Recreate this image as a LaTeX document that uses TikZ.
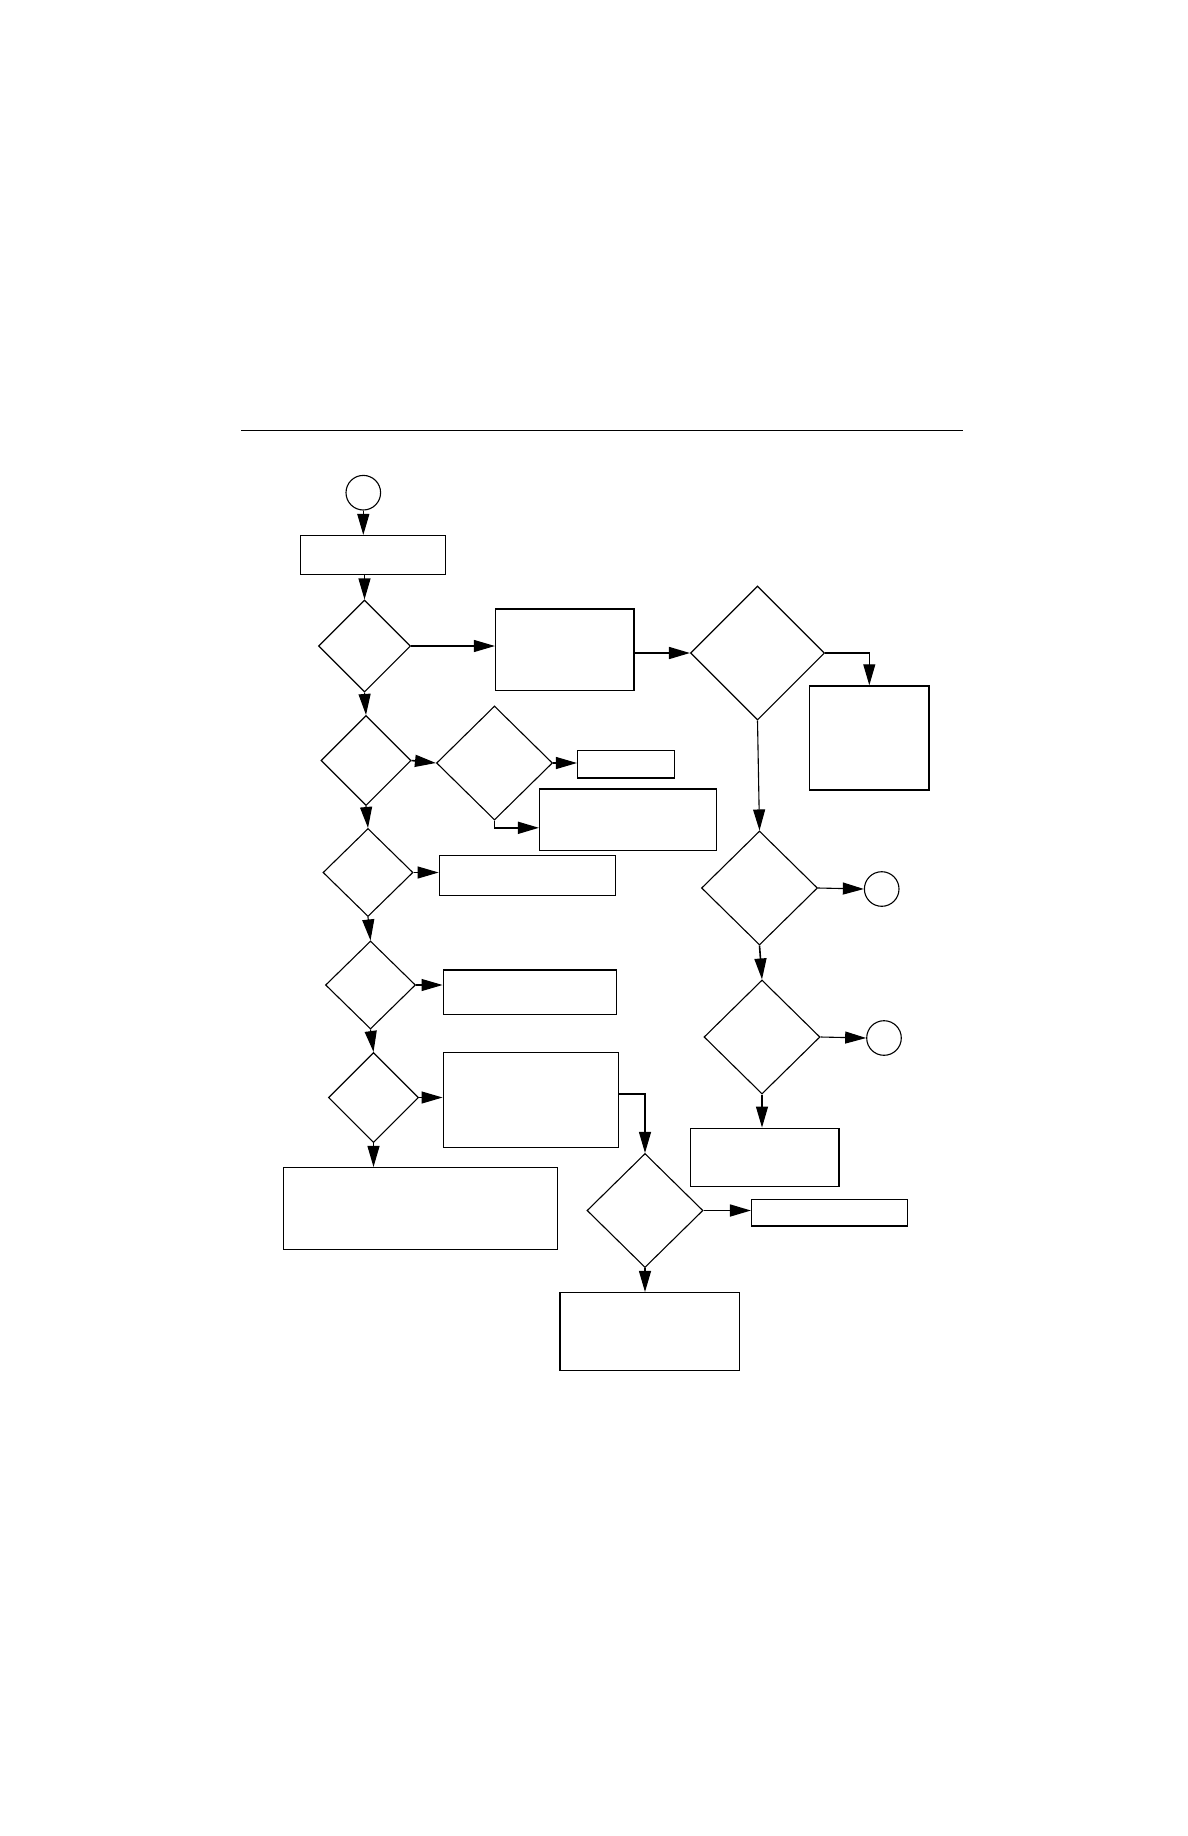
\documentclass[tikz,border=0pt]{standalone}
\usetikzlibrary{arrows.meta,shapes.geometric}
\begin{document}
\begin{tikzpicture}[x=1pt,y=-1pt,
  boxn/.style={draw,rectangle,line width=1.5pt,inner sep=0pt},
  dia/.style={draw,diamond,line width=1.1pt,inner sep=0pt},
  circ/.style={draw,circle,line width=1.1pt,inner sep=0pt,minimum size=34.6pt},
  conn/.style={line width=1.1pt,-{Triangle[length=21pt,width=12pt]}},
  thick conn/.style={line width=1.6pt,-{Triangle[length=21pt,width=12pt]}}]
\useasboundingbox[fill=white] (0,0) rectangle (1188,1836);
\draw[line width=1pt] (241,430) -- (963,430);
% nodes
\node[circ] (c1) at (363.3,492.7) {};
\node[boxn,minimum width=144.6pt,minimum height=39pt] (b1) at (373,555.2) {};
\node[dia,minimum width=92pt,minimum height=92pt] (d1) at (364.5,646) {};
\node[boxn,minimum width=138.3pt,minimum height=81.3pt] (b2) at (564.8,649.7) {};
\node[dia,minimum width=134pt,minimum height=134pt] (d2) at (757.5,653) {};
\node[boxn,minimum width=119.3pt,minimum height=104pt] (r1) at (869.3,738) {};
\node[dia,minimum width=116pt,minimum height=114pt] (d3) at (759.5,888) {};
\node[circ] (c2) at (881.7,889) {};
\node[dia,minimum width=116pt,minimum height=114pt] (d4) at (762,1037) {};
\node[circ] (c3) at (884,1038) {};
\node[boxn,minimum width=148.3pt,minimum height=58pt] (b8) at (764.8,1157.3) {};
\node[dia,minimum width=90pt,minimum height=90pt] (d5) at (366,760.5) {};
\node[dia,minimum width=116pt,minimum height=114pt] (d6) at (494.5,763) {};
\node[boxn,minimum width=96.6pt,minimum height=27.3pt] (s1) at (626,764.3) {};
\node[boxn,minimum width=177pt,minimum height=61.7pt] (b3) at (628.2,819.8) {};
\node[dia,minimum width=90pt,minimum height=88pt] (d7) at (368,872.5) {};
\node[boxn,minimum width=176.3pt,minimum height=40.2pt] (b4) at (527.5,875.4) {};
\node[dia,minimum width=90pt,minimum height=88pt] (d8) at (370.5,985) {};
\node[boxn,minimum width=173.4pt,minimum height=44.3pt] (b5) at (530,992.2) {};
\node[dia,minimum width=90pt,minimum height=90pt] (d9) at (373.5,1097.5) {};
\node[boxn,minimum width=175pt,minimum height=94.6pt] (b6) at (530.8,1100) {};
\node[boxn,minimum width=273.6pt,minimum height=81.6pt] (b7) at (420.5,1208.5) {};
\node[dia,minimum width=116pt,minimum height=114pt] (d10) at (645,1210.5) {};
\node[boxn,minimum width=155.6pt,minimum height=26.7pt] (b9) at (829.5,1212.7) {};
\node[boxn,minimum width=179.3pt,minimum height=78pt] (b10) at (649.7,1331.7) {};
% connectors
\draw[conn] (c1.south) -- (c1.south |- b1.north);
\draw[conn] (d1.north |- b1.south) -- (d1.north);
\draw[conn] (d1.east) -- (d1.east -| b2.west);
\draw[thick conn] (b2.east |- d2.west) -- (d2.west);
\draw[conn] (d2.east) -| (r1.north);
\draw[conn] (d2.south) -- (d3.north);
\draw[conn] (d3.east) -- (c2.west);
\draw[thick conn] (d3.south) -- (d4.north);
\draw[conn] (d4.east) -- (c3.west);
\draw[conn] (d4.south) -- (d4.south |- b8.north);
\draw[conn] (d1.south) -- (d5.north);
\draw[thick conn] (d5.east) -- (d6.west);
\draw[conn] (d6.east) -- (d6.east -| s1.west);
\draw[thick conn] (d6.south) |- ([yshift=-8pt]b3.west);
\draw[conn] (d5.south) -- (d7.north);
\draw[conn] (d7.east) -- (d7.east -| b4.west);
\draw[conn] (d7.south) -- (d8.north);
\draw[conn] (d8.east) -- (d8.east -| b5.west);
\draw[conn] (d8.south) -- (d9.north);
\draw[conn] (d9.east) -- (d9.east -| b6.west);
\draw[conn] (d9.south) -- (d9.south |- b7.north);
\draw[conn] ([yshift=6pt]b6.east) -| (d10.north);
\draw[thick conn] (d10.east) -- (d10.east -| b9.west);
\draw[conn] (d10.south) -- (d10.south |- b10.north);
\end{tikzpicture}
\end{document}
